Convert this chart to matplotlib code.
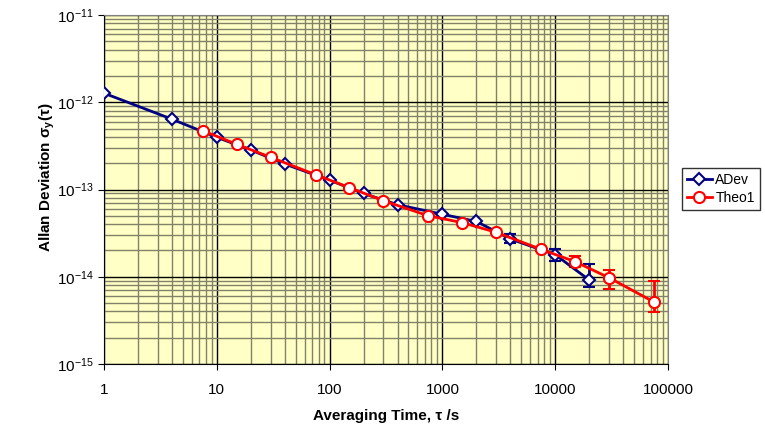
import numpy as np
import matplotlib
matplotlib.use("Agg")
import matplotlib.pyplot as plt
from matplotlib.ticker import LogLocator, FixedLocator, FixedFormatter

plt.rcParams['font.family'] = ['Liberation Sans', 'DejaVu Sans']
plt.rcParams['mathtext.fontset'] = 'custom'
plt.rcParams['mathtext.rm'] = 'Liberation Sans'
plt.rcParams['mathtext.it'] = 'Liberation Sans:italic'
plt.rcParams['mathtext.bf'] = 'Liberation Sans:bold'

# ADev data
adev_tau = [1, 4, 10, 20, 40, 100, 200, 400, 1000, 2000, 4000, 10000, 20000]
adev_sig = [1.27e-12, 6.4e-13, 3.96e-13, 2.84e-13, 1.96e-13, 1.28e-13, 9.0e-14,
            6.7e-14, 5.2e-14, 4.3e-14, 2.71e-14, 1.79e-14, 9.2e-15]
adev_lo = [0, 0, 0, 0, 0, 0, 0, 0, 0, 0.1e-14, 0.29e-14, 0.28e-14, 0.16e-14]
adev_hi = [0, 0, 0, 0, 0, 0, 0, 0, 0, 0.1e-14, 0.35e-14, 0.29e-14, 0.47e-14]

# Theo1 data
theo_tau = [7.5, 15, 30, 75, 150, 300, 750, 1500, 3000, 7500, 15000, 30000, 75000]
theo_sig = [4.72e-13, 3.30e-13, 2.34e-13, 1.48e-13, 1.05e-13, 7.44e-14, 5.0e-14,
            4.17e-14, 3.23e-14, 2.06e-14, 1.49e-14, 9.75e-15, 5.14e-15]
theo_lo = [0, 0, 0, 0, 0, 0, 0, 0, 0, 0.1e-14, 0.2e-14, 0.25e-14, 0.123e-14]
theo_hi = [0, 0, 0, 0, 0, 0, 0, 0, 0, 0.1e-14, 0.25e-14, 0.22e-14, 0.39e-14]

xticks = [1, 10, 100, 1000, 10000, 100000]
xlabels = ['1', '10', '100', '1000', '10000', '100000']
yticks = [1e-15, 1e-14, 1e-13, 1e-12, 1e-11]
ylabels = ['10$^{\\mathregular{-15}}$', '10$^{\\mathregular{-14}}$', '10$^{\\mathregular{-13}}$',
           '10$^{\\mathregular{-12}}$', '10$^{\\mathregular{-11}}$']

fig = plt.figure(figsize=(7.65, 4.3), dpi=100)
ax = fig.add_axes([104/765, 1-364/430, (668-104)/765, (364-15)/430])
ax.set_facecolor('#FFFFC6')

ax.set_xscale('log')
ax.set_yscale('log')
ax.set_xlim(1, 1e5)
ax.set_ylim(1e-15, 1e-11)

ax.xaxis.set_major_locator(FixedLocator(xticks))
ax.xaxis.set_major_formatter(FixedFormatter(xlabels))
ax.yaxis.set_major_locator(FixedLocator(yticks))
ax.yaxis.set_major_formatter(FixedFormatter(ylabels))
ax.xaxis.set_minor_locator(LogLocator(base=10, subs=np.arange(2, 10), numticks=20))
ax.yaxis.set_minor_locator(LogLocator(base=10, subs=np.arange(2, 10), numticks=20))
ax.xaxis.set_minor_formatter(plt.NullFormatter())
ax.yaxis.set_minor_formatter(plt.NullFormatter())

ax.grid(True, which='minor', color='#82826A', linewidth=1.0, zorder=0)
ax.grid(True, which='major', color='black', linewidth=1.0, zorder=0)
ax.set_axisbelow(True)

ax.tick_params(which='major', direction='out', length=4, labelsize=11, colors='black')
ax.tick_params(which='minor', length=0)
ax.tick_params(axis='x', pad=10)

for s in ['top', 'right']:
    ax.spines[s].set_color('#808080')
for s in ['left', 'bottom']:
    ax.spines[s].set_color('black')

ax.errorbar(adev_tau, adev_sig, yerr=[adev_lo, adev_hi], color='#000080', lw=2,
            marker='D', ms=6, mfc='white', mec='#000080', mew=1.5,
            capsize=4, capthick=2, elinewidth=2, label='ADev', zorder=3)
ax.errorbar(theo_tau, theo_sig, yerr=[theo_lo, theo_hi], color='#FF0000', lw=2,
            marker='o', ms=8, mfc='white', mec='#FF0000', mew=1.5,
            capsize=4, capthick=2, elinewidth=2, label='Theo1', zorder=3)

ax.set_xlabel('Averaging Time, τ /s', fontsize=11, fontweight='bold', labelpad=8)
ax.set_ylabel('Allan Deviation σ$_\\mathbf{y}$(τ)', fontsize=11, fontweight='bold')
ax.yaxis.set_label_coords(-0.083, 0.536)

h, l = ax.get_legend_handles_labels()
h = [hh[0] for hh in h]
leg = fig.legend(h, l, loc='center left', bbox_to_anchor=(682/765, 1-189/430),
                 frameon=True, fancybox=False, edgecolor='black', fontsize=10,
                 handlelength=1.8, borderpad=0.35, labelspacing=0.3, handletextpad=0.25,
                 borderaxespad=0)
leg.get_frame().set_linewidth(1.0)

fig.savefig('out.png', dpi=100)
